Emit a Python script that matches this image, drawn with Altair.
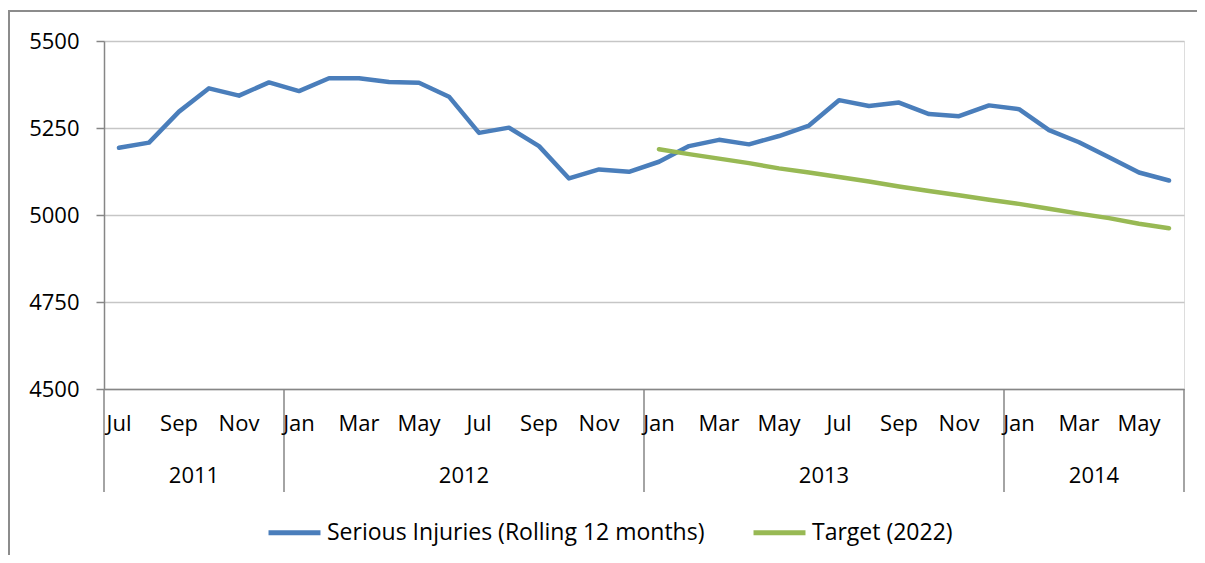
import altair as alt
import pandas as pd

# ---- data ----
months = ["Jul", "Aug", "Sep", "Oct", "Nov", "Dec",
          "Jan", "Feb", "Mar", "Apr", "May", "Jun", "Jul", "Aug", "Sep", "Oct", "Nov", "Dec",
          "Jan", "Feb", "Mar", "Apr", "May", "Jun", "Jul", "Aug", "Sep", "Oct", "Nov", "Dec",
          "Jan", "Feb", "Mar", "Apr", "May", "Jun"]
years = ["2011"] * 6 + ["2012"] * 12 + ["2013"] * 12 + ["2014"] * 6
serious = [5193, 5208, 5297, 5364, 5343, 5381, 5356, 5393, 5393, 5382, 5380, 5340,
           5236, 5251, 5198, 5105, 5131, 5124,
           5153, 5198, 5216, 5203, 5227, 5257, 5330, 5313, 5323, 5290, 5284, 5315,
           5304, 5244, 5209, 5166, 5122, 5099]
target = [None] * 18 + [5189, 5175, 5162, 5149, 5134, 5122, 5109, 5096, 5082, 5069,
                        5057, 5044, 5032, 5018, 5004, 4991, 4975, 4962]
series_names = ["Serious Injuries (Rolling 12 months)", "Target (2022)"]
series_colors = ["#4a7ebb", "#98b954"]
y_ticks = [4500, 4750, 5000, 5250, 5500]

W, H = 1080, 348
FONT = "Open Sans"
FS = 22

rows = []
for i, (m, y, s, t) in enumerate(zip(months, years, serious, target)):
    rows.append({"idx": i, "month": m, "year": y, "value": s, "series": series_names[0]})
    if t is not None:
        rows.append({"idx": i, "month": m, "year": y, "value": t, "series": series_names[1]})
df = pd.DataFrame(rows)

mdf = pd.DataFrame({"idx": list(range(len(months))), "month": months, "year": years})
label_df = mdf[mdf["idx"] % 2 == 0]
year_df = mdf.groupby("year", as_index=False).agg(first=("idx", "min"), last=("idx", "max"))
year_df["mid"] = (year_df["first"] + year_df["last"]) / 2
bounds = sorted(set(list(year_df["first"] - 0.5) + [len(months) - 0.5]))
bound_df = pd.DataFrame({"b": bounds})

xscale = alt.Scale(domain=[-0.5, len(months) - 0.5], nice=False, zero=False)
yscale = alt.Scale(domain=[4500, 5500], nice=False, zero=False)

lines = alt.Chart(df).mark_line(strokeWidth=4.5, strokeCap="round", strokeJoin="round").encode(
    x=alt.X("idx:Q", scale=xscale,
            axis=alt.Axis(labels=False, ticks=False, grid=False, domain=True,
                          domainColor="#868686", domainWidth=1.5, title=None)),
    y=alt.Y("value:Q", scale=yscale,
            axis=alt.Axis(values=y_ticks, title=None, grid=True, gridColor="#c6c6c6",
                          gridWidth=1.5, domainColor="#868686", domainWidth=1.5,
                          tickColor="#868686", tickSize=8, tickWidth=1.5,
                          labelFontSize=FS, labelFont=FONT, labelColor="#000000",
                          labelPadding=17, format="d")),
    color=alt.Color("series:N", sort=series_names,
                    scale=alt.Scale(domain=series_names, range=series_colors),
                    legend=alt.Legend(orient="none", legendX=162, legendY=463,
                                      direction="horizontal", title=None,
                                      symbolType="stroke", symbolSize=2700,
                                      symbolStrokeWidth=5, labelFontSize=23,
                                      labelFont=FONT, labelColor="#000000",
                                      labelLimit=0, labelOffset=4,
                                      columnPadding=38, padding=0)),
    detail="series:N",
)

sep = alt.Chart(bound_df).mark_rule(color="#868686", strokeWidth=1.5).encode(
    x=alt.X("b:Q", scale=xscale),
    y=alt.value(H),
    y2=alt.value(H + 103),
)

mlabels = alt.Chart(label_df).mark_text(fontSize=FS, font=FONT, color="#000000",
                                        baseline="middle", align="center").encode(
    x=alt.X("idx:Q", scale=xscale),
    y=alt.value(H + 35),
    text="month:N",
)

ylabels = alt.Chart(year_df).mark_text(fontSize=FS, font=FONT, color="#000000",
                                       baseline="middle", align="center").encode(
    x=alt.X("mid:Q", scale=xscale),
    y=alt.value(H + 87),
    text="year:N",
)

border = alt.Chart(bound_df).mark_rect(fill=None, stroke="#8c8c8c", strokeWidth=2).encode(
    x=alt.value(-95), x2=alt.value(W + 300),
    y=alt.value(-30), y2=alt.value(H + 400),
)

chart = alt.layer(border, lines, sep, mlabels, ylabels).properties(
    width=W, height=H,
    autosize=alt.AutoSizeParams(type="none"),
    padding={"left": 96, "top": 33, "right": 13, "bottom": 166},
).configure_view(stroke=None).configure(background="white")

chart.save("out.html", embed_options={"renderer": "svg", "actions": False})
